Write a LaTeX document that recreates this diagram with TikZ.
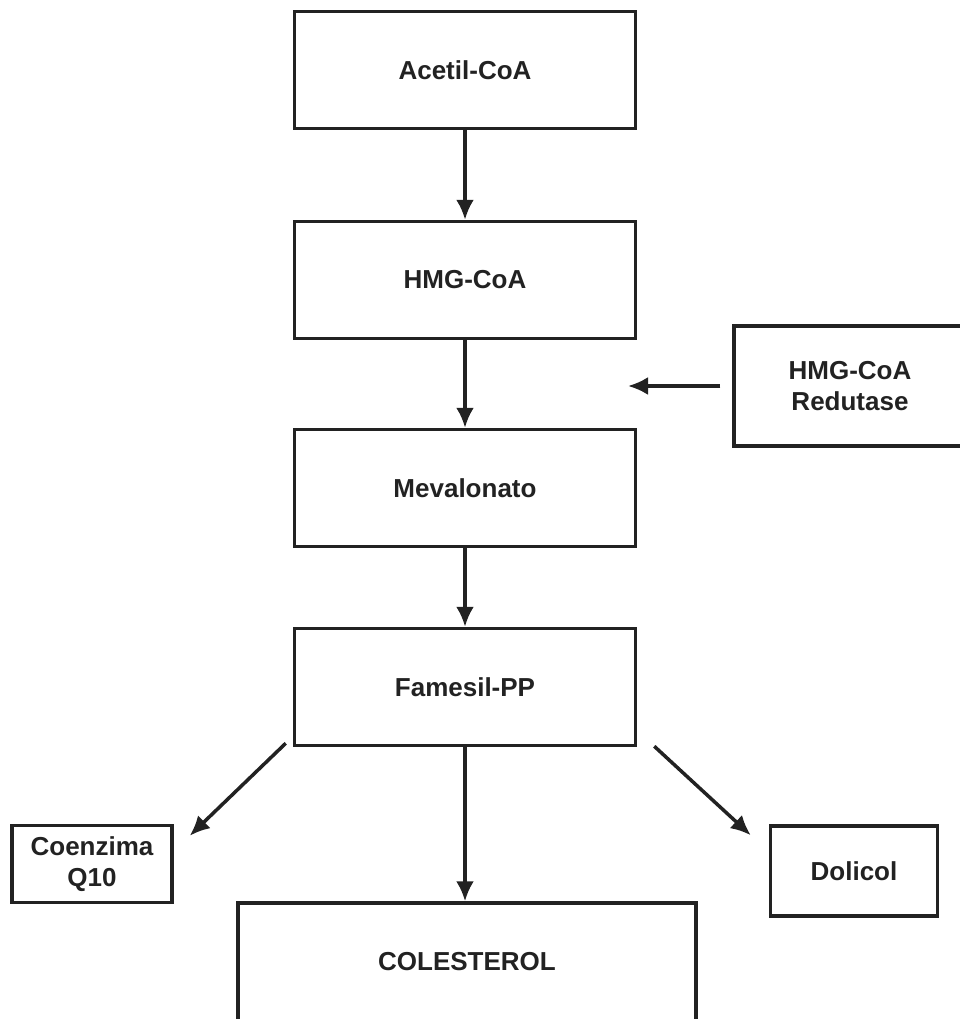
\documentclass[tikz,border=0pt]{standalone}
\usepackage{fontspec}
\setmainfont{Liberation Sans}
\usetikzlibrary{arrows.meta,positioning}
\definecolor{inkdark}{RGB}{34,34,34}

\begin{document}
\begin{tikzpicture}[x=1pt, y=-1pt,
  >={Latex[length=20pt,width=18pt]},
  font=\fontsize{26}{31}\selectfont\bfseries,
  stepbox/.style={draw=inkdark, line width=3.5pt, inner sep=0pt,
    minimum width=341pt, minimum height=117pt, text=inkdark, align=center},
  sidebox/.style={stepbox, minimum width=160pt, minimum height=77pt},
  flow/.style={->, draw=inkdark, line width=3.5pt}]

\useasboundingbox (0,0) rectangle (960,1019);
\clip (0,0) rectangle (960,1019);

% ===== main pathway =====
\node[stepbox] (acetil) at (465,70)  {Acetil-CoA};
\node[stepbox] (hmg)    at (465,280) {HMG-CoA};
\node[stepbox] (meval)  at (465,488) {Mevalonato};
\node[stepbox] (farnes) at (465,687) {Famesil-PP};
\node[stepbox, minimum width=458pt, minimum height=118pt]
  (colest) at (467,962) {COLESTEROL};

% ===== side products and enzyme =====
\node[sidebox] (coq)   at (92,864)  {Coenzima\\Q10};
\node[sidebox, minimum width=167pt, minimum height=90pt]
  (dolicol) at (854,871) {Dolicol};
\node[stepbox, minimum width=232pt, minimum height=120pt]
  (redut) at (850,386) {HMG-CoA\\Redutase};

% ===== connectors =====
\draw[flow] (acetil) -- (hmg);
\draw[flow] (hmg) -- (meval);
\draw[flow] (meval) -- (farnes);
\draw[flow] (farnes) -- (farnes |- colest.north);

\coordinate (inhib) at (628,386);
\draw[flow] ([xshift=-12pt]redut.west) -- (inhib);

\draw[flow] ([shift={(-7,-4)}]farnes.south west) -- ([shift={(16,12)}]coq.north east);
\draw[flow] ([shift={(17,-1)}]farnes.south east) -- ([shift={(-18,11)}]dolicol.north west);

\end{tikzpicture}
\end{document}
